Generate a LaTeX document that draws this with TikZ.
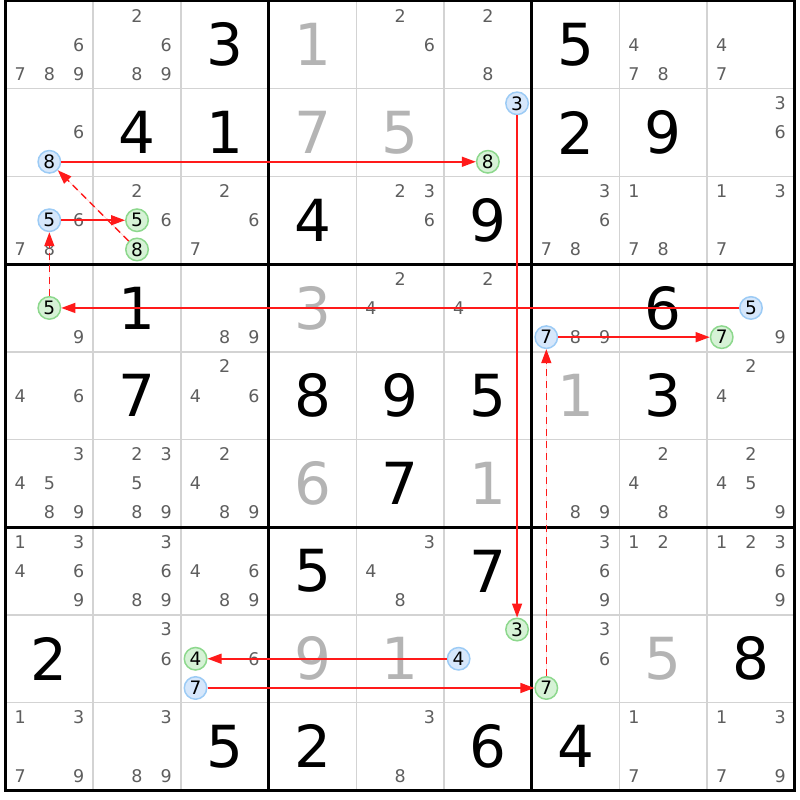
\documentclass[tikz,border=0pt]{standalone}
\usepackage{fontspec}
\setmainfont{DejaVu Sans}
\usetikzlibrary{arrows.meta}

\definecolor{candGray}{HTML}{5E5E5E}
\definecolor{solvedGray}{HTML}{B4B4B4}
\definecolor{gridGray}{HTML}{D3D3D3}
\definecolor{blueFill}{HTML}{D6E7FB}
\definecolor{blueEdge}{HTML}{9CCBF5}
\definecolor{greenFill}{HTML}{D6F2D6}
\definecolor{greenEdge}{HTML}{8DD88D}
\definecolor{linkRed}{HTML}{FF1A1A}

\tikzstyle{cS}=[inner sep=0pt, text=candGray, font=\fontsize{17.5}{18}\selectfont]
\tikzstyle{gS}=[inner sep=0pt, text=black, font=\fontsize{58}{60}\selectfont]
\tikzstyle{sS}=[inner sep=0pt, text=solvedGray, font=\fontsize{58}{60}\selectfont]
\tikzstyle{bS}=[circle, minimum size=22.5pt, inner sep=0pt, line width=1.5pt, draw=blueEdge, fill=blueFill, text=black, font=\fontsize{18.5}{19}\selectfont]
\tikzstyle{grS}=[circle, minimum size=22.5pt, inner sep=0pt, line width=1.5pt, draw=greenEdge, fill=greenFill, text=black, font=\fontsize{18.5}{19}\selectfont]
\tikzstyle{lS}=[draw=linkRed, fill=linkRed, line width=1.5pt, -{Triangle[length=14pt,width=10pt]}]
\tikzstyle{dlS}=[lS, dash pattern=on 7pt off 5pt]

% cell (row, col) -> big digit
\newcommand{\bigdigit}[4]{\node[#1] (r#2c#3) at ({5.5+(#3-0.5)*87.7},{1+(#2-0.5)*87.7}) {#4};}
% pencil marks of one cell
\newcommand{\cands}[3]{\foreach \d in {#3}{\node[cS] (r#1c#2n\d) at ({5.5+(#2-1)*87.7+(mod(\d-1,3)+0.5)*29.23},{1+(#1-1)*87.7+(floor((\d-1)/3)+0.5)*29.23}) {\d};}}
% ringed pencil mark
\newcommand{\ringcand}[4]{\node[#1] (r#2c#3n#4) at ({5.5+(#3-1)*87.7+(mod(#4-1,3)+0.5)*29.23},{1+(#2-1)*87.7+(floor((#4-1)/3)+0.5)*29.23}) {#4};}

\begin{document}
\begin{tikzpicture}[x=1pt,y=-1pt]
    \useasboundingbox (0,0) rectangle (800,800);
    % grid
    \foreach \i in {1,2,4,5,7,8} {
        \draw[gridGray,line width=1.5pt] ({5.5+\i*87.7},1) -- ({5.5+\i*87.7},790.3);
        \draw[gridGray,line width=1.5pt] (5.5,{1+\i*87.7}) -- (794.8,{1+\i*87.7});
    }
    \foreach \i in {0,3,6,9} {
        \draw[black,line width=3pt] ({5.5+\i*87.7},-0.5) -- ({5.5+\i*87.7},791.8);
        \draw[black,line width=3pt] (4,{1+\i*87.7}) -- (796.3,{1+\i*87.7});
    }
    % givens
    \bigdigit{gS}{1}{3}{3} \bigdigit{gS}{1}{7}{5}
    \bigdigit{gS}{2}{2}{4} \bigdigit{gS}{2}{3}{1} \bigdigit{gS}{2}{7}{2} \bigdigit{gS}{2}{8}{9}
    \bigdigit{gS}{3}{4}{4} \bigdigit{gS}{3}{6}{9}
    \bigdigit{gS}{4}{2}{1} \bigdigit{gS}{4}{8}{6}
    \bigdigit{gS}{5}{2}{7} \bigdigit{gS}{5}{4}{8} \bigdigit{gS}{5}{5}{9} \bigdigit{gS}{5}{6}{5} \bigdigit{gS}{5}{8}{3}
    \bigdigit{gS}{6}{5}{7}
    \bigdigit{gS}{7}{4}{5} \bigdigit{gS}{7}{6}{7}
    \bigdigit{gS}{8}{1}{2} \bigdigit{gS}{8}{9}{8}
    \bigdigit{gS}{9}{3}{5} \bigdigit{gS}{9}{4}{2} \bigdigit{gS}{9}{6}{6} \bigdigit{gS}{9}{7}{4}
    % solved
    \bigdigit{sS}{1}{4}{1}
    \bigdigit{sS}{2}{4}{7} \bigdigit{sS}{2}{5}{5}
    \bigdigit{sS}{4}{4}{3}
    \bigdigit{sS}{5}{7}{1}
    \bigdigit{sS}{6}{4}{6} \bigdigit{sS}{6}{6}{1}
    \bigdigit{sS}{8}{4}{9} \bigdigit{sS}{8}{5}{1} \bigdigit{sS}{8}{8}{5}
    % pencil marks
    \cands{1}{1}{6,7,8,9} \cands{1}{2}{2,6,8,9} \cands{1}{5}{2,6} \cands{1}{6}{2,8}
    \cands{1}{8}{4,7,8} \cands{1}{9}{4,7}
    \cands{2}{1}{6} \cands{2}{9}{3,6}
    \cands{3}{1}{6,7,8} \cands{3}{2}{2,6} \cands{3}{3}{2,6,7} \cands{3}{5}{2,3,6}
    \cands{3}{7}{3,6,7,8} \cands{3}{8}{1,7,8} \cands{3}{9}{1,3,7}
    \cands{4}{1}{9} \cands{4}{3}{8,9} \cands{4}{5}{2,4} \cands{4}{6}{2,4}
    \cands{4}{7}{8,9} \cands{4}{9}{9}
    \cands{5}{1}{4,6} \cands{5}{3}{2,4,6} \cands{5}{9}{2,4}
    \cands{6}{1}{3,4,5,8,9} \cands{6}{2}{2,3,5,8,9} \cands{6}{3}{2,4,8,9}
    \cands{6}{7}{8,9} \cands{6}{8}{2,4,8} \cands{6}{9}{2,4,5,9}
    \cands{7}{1}{1,3,4,6,9} \cands{7}{2}{3,6,8,9} \cands{7}{3}{4,6,8,9} \cands{7}{5}{3,4,8}
    \cands{7}{7}{3,6,9} \cands{7}{8}{1,2} \cands{7}{9}{1,2,3,6,9}
    \cands{8}{2}{3,6} \cands{8}{3}{6} \cands{8}{7}{3,6}
    \cands{9}{1}{1,3,7,9} \cands{9}{2}{3,8,9} \cands{9}{5}{3,8} \cands{9}{8}{1,7} \cands{9}{9}{1,3,7,9}
    % ringed marks
    \ringcand{bS}{2}{1}{8} \ringcand{bS}{2}{6}{3} \ringcand{grS}{2}{6}{8}
    \ringcand{bS}{3}{1}{5} \ringcand{grS}{3}{2}{5} \ringcand{grS}{3}{2}{8}
    \ringcand{grS}{4}{1}{5} \ringcand{bS}{4}{7}{7} \ringcand{bS}{4}{9}{5} \ringcand{grS}{4}{9}{7}
    \ringcand{grS}{8}{3}{4} \ringcand{bS}{8}{3}{7} \ringcand{grS}{8}{6}{3} \ringcand{bS}{8}{6}{4}
    \ringcand{grS}{8}{7}{7}
    % chain
    \draw[lS] (r2c1n8) -- (r2c6n8);
    \draw[dlS] (r3c2n8) -- (r2c1n8);
    \draw[lS] (r3c1n5) -- (r3c2n5);
    \draw[dlS] (r4c1n5) -- (r3c1n5);
    \draw[lS] (r4c9n5) -- (r4c1n5);
    \draw[lS] (r4c7n7) -- (r4c9n7);
    \draw[dlS] (r8c7n7) -- (r4c7n7);
    \draw[lS] (r8c3n7) -- (r8c7n7);
    \draw[lS] (r8c6n4) -- (r8c3n4);
    \draw[lS] (r2c6n3) -- (r8c6n3);
\end{tikzpicture}
\end{document}
